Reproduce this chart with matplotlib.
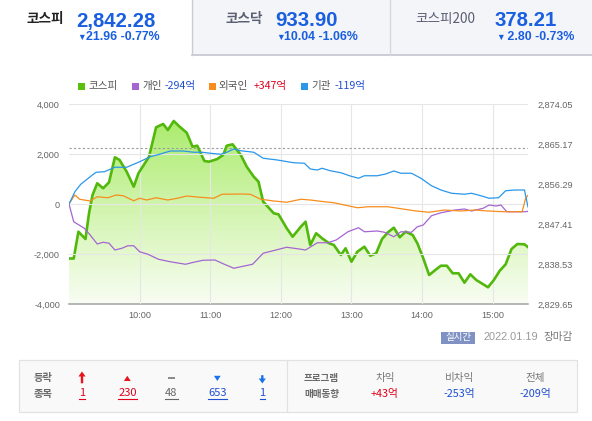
import numpy as np
import matplotlib
matplotlib.use('Agg')
import matplotlib.pyplot as plt
from matplotlib.colors import LinearSegmentedColormap
from matplotlib.patches import Rectangle, Polygon
from matplotlib.ticker import FixedLocator, FuncFormatter

KR = ['Noto Sans CJK KR', 'DejaVu Sans']
NUM = ['Liberation Sans', 'DejaVu Sans']

# ---- data (minutes after 09:00) ----
kospi_min = [0, 4, 8, 14, 17, 20, 24, 29, 34, 39, 43, 49, 55, 59, 68, 74, 80, 84, 89, 94,
             100, 105, 109, 115, 119, 126, 131, 134, 139, 146, 151, 157, 161, 165, 174, 178,
             185, 190, 197, 201, 205, 210, 215, 221, 225, 231, 235, 240, 245, 251, 256, 261,
             266, 271, 276, 281, 286, 292, 296, 301, 306, 312, 316, 321, 326, 331, 336, 341,
             346, 352, 356, 361, 366, 371, 376, 381, 387, 390]
kospi_val = [2839.75, 2839.75, 2845.70, 2844.08, 2849.79, 2853.85, 2856.45, 2855.34, 2856.67,
             2862.22, 2861.62, 2859.02, 2855.69, 2858.67, 2862.35, 2868.88, 2869.61, 2868.28,
             2870.28, 2869.01, 2867.68, 2864.57, 2864.79, 2861.40, 2861.24, 2861.84, 2862.73,
             2864.79, 2865.10, 2862.73, 2860.13, 2857.91, 2856.80, 2852.36, 2849.79, 2849.56,
             2846.46, 2844.59, 2846.81, 2847.92, 2842.75, 2845.35, 2844.24, 2843.13, 2842.75,
             2840.53, 2842.02, 2839.04, 2841.26, 2842.37, 2840.37, 2840.91, 2844.08, 2845.57,
             2846.59, 2844.46, 2845.70, 2844.97, 2843.13, 2839.80, 2836.09, 2837.35, 2838.15,
             2838.15, 2836.47, 2836.47, 2834.38, 2836.24, 2834.98, 2834.02, 2833.36, 2834.98,
             2837.04, 2838.46, 2841.86, 2842.97, 2842.90, 2842.28]

indiv_min = [0, 4, 13, 18, 24, 29, 34, 39, 45, 50, 55, 60, 67, 76, 86, 99, 106, 114, 124, 130,
             140, 156, 165, 175, 185, 191, 197, 201, 211, 220, 227, 237, 246, 251, 262, 268,
             276, 282, 291, 296, 301, 308, 316, 328, 336, 342, 352, 357, 363, 367, 372, 387, 390]
indiv_val = [0, -710, -970, -1240, -1600, -1530, -1570, -1840, -1770, -1670, -1670, -1910,
             -2010, -2210, -2310, -2410, -2330, -2250, -2240, -2370, -2570, -2410, -1970, -1850,
             -1730, -1770, -1810, -1840, -1550, -1550, -1440, -1110, -950, -1110, -1080, -1130,
             -1310, -1110, -1130, -910, -840, -470, -350, -240, -200, -280, -170, -40, -80, -40,
             -310, -310, -294]

fore_min = [0, 5, 9, 18, 24, 33, 40, 46, 55, 60, 66, 74, 84, 92, 100, 111, 123, 130, 146, 154,
            163, 174, 185, 197, 205, 217, 225, 234, 245, 254, 271, 285, 295, 306, 319, 333,
            345, 356, 370, 385, 388, 390]
fore_val = [0, 360, 190, 120, 290, 250, 360, 330, 130, 230, 160, 250, 160, 230, 320, 270, 230,
            390, 400, 390, 190, 120, 70, 190, 160, 90, 50, -40, -150, -110, -110, -210, -280,
            -330, -240, -280, -240, -280, -310, -310, 230, 347]

inst_min = [0, 5, 10, 18, 23, 30, 39, 49, 60, 69, 77, 86, 97, 106, 113, 120, 129, 134, 140, 146,
            157, 165, 177, 191, 200, 205, 211, 215, 222, 231, 239, 246, 251, 262, 269, 276,
            282, 291, 299, 308, 316, 325, 336, 342, 350, 357, 365, 371, 379, 387, 390]
inst_val = [0, 490, 790, 1090, 1270, 1290, 1470, 1470, 1690, 1890, 1990, 2120, 2120, 2070, 2070,
            2030, 1990, 2070, 2200, 2130, 2070, 1830, 1760, 1650, 1630, 1400, 1360, 1430, 1330,
            1250, 1120, 1030, 1130, 1130, 1200, 1320, 1230, 1230, 1030, 730, 560, 430, 390, 430,
            330, 230, 250, 530, 560, 560, -119]

prev_close = 2864.24
kospi_ticks = [2829.65, 2838.53, 2847.41, 2856.29, 2865.17, 2874.05]
flow_ticks = [-4000, -2000, 0, 2000, 4000]
hour_ticks = [60, 120, 180, 240, 300, 360]
hour_labels = ['10:00', '11:00', '12:00', '13:00', '14:00', '15:00']

tabs = [('코스피', '2,842.28', '21.96 -0.77%'),
        ('코스닥', '933.90', '10.04 -1.06%'),
        ('코스피200', '378.21', ' 2.80 -0.73%')]
legend_items = [('코스피', '', '#5cbf0e', None),
                ('개인', '-294억', '#a466d2', '#1f4fd1'),
                ('외국인', '+347억', '#f78d1e', '#e0001b'),
                ('기관', '-119억', '#2a97ea', '#1f4fd1')]
updown_counts = ['1', '230', '48', '653', '1']
program_labels = ['차익', '비차익', '전체']
program_values = ['+43억', '-253억', '-209억']

W, H = 592, 421
BLUE = '#1a5fe0'
RED = '#e0001b'
DBLUE = '#1f4fd1'

fig = plt.figure(figsize=(W / 100, H / 100), dpi=100)
fig.patch.set_facecolor('white')

# overlay in pixel coordinates for the widget decoration
ov = fig.add_axes([0, 0, 1, 1])
ov.set_xlim(0, W)
ov.set_ylim(H, 0)
ov.axis('off')

# ---- header tabs ----
ov.add_patch(Rectangle((192, 0), 400, 54.5, facecolor='#f4f5f9', edgecolor='none'))
ov.plot([192, 592], [54.5, 54.5], color='#c3c6d0', lw=1.2)
ov.plot([192, 192], [0, 54.5], color='#c9ccd6', lw=1)
ov.plot([390, 390], [0, 54.5], color='#d5d8e0', lw=1)

tab_x = [(26.5, 76, 77), (225, 275, 276), (415, 495, 496)]
for i, ((name, val, chg), (xn, xv, xc)) in enumerate(zip(tabs, tab_x)):
    ov.text(xn, 18.5, name, family=KR, fontsize=9.8,
            fontweight='bold' if i < 2 else 'normal',
            color='#222222' if i == 0 else '#5a5f72', ha='left', va='center')
    ov.text(xv, 26.5, val, family=NUM, fontsize=14.7, fontweight='bold',
            color=BLUE, ha='left', va='baseline')
    ov.text(xc, 40.3, '▼', family=NUM, fontsize=6.3, color=BLUE, ha='left', va='baseline')
    ov.text(xc + 8.5, 40.5, chg, family=NUM, fontsize=8.9, fontweight='bold',
            color=BLUE, ha='left', va='baseline')

# ---- legend ----
leg_x = [(78, 88, None), (132, 142, 165), (209, 218, 254), (301, 311, 335)]
for (lab, num, col, ncol), (xs, xl, xn) in zip(legend_items, leg_x):
    ov.add_patch(Rectangle((xs, 82.5), 7, 7, facecolor=col, edgecolor='none'))
    ov.text(xl, 86, lab, family=KR, fontsize=7.6, color='#555555', ha='left', va='center')
    if xn is not None:
        ov.text(xn, 86, num, family=KR, fontsize=7.6, color=ncol, ha='left', va='center')

# ---- chart ----
x0, x1, ytop, ybot = 69, 528, 104, 304
ax = fig.add_axes([x0 / W, 1 - ybot / H, (x1 - x0) / W, (ybot - ytop) / H])
ax2 = ax.twinx()
ylo, yhi = kospi_ticks[0], kospi_ticks[-1]

poly = ax.fill_between(kospi_min, kospi_val, ylo, facecolor='none', edgecolor='none')
cmap = LinearSegmentedColormap.from_list('kospi_fill', ['#f8fdf3', '#d0f4ab', '#a4ea62'])
grad = np.linspace(0, 1, 256).reshape(-1, 1)
im = ax.imshow(grad, extent=[0, 390, ylo, yhi], origin='lower', aspect='auto',
               cmap=cmap, zorder=1)
im.set_clip_path(poly.get_paths()[0], transform=ax.transData)
ax.plot(kospi_min, kospi_val, color='#52b80c', lw=1.9, zorder=3, solid_joinstyle='round')
ax.axhline(prev_close, color='#9a9a9a', lw=0.8, ls=(0, (2, 2)), zorder=2.8)
ax.set_xlim(0, 390)
ax.set_ylim(ylo, yhi)

ax.set_axisbelow(False)
ax.xaxis.set_major_locator(FixedLocator(hour_ticks))
ax.set_xticklabels(hour_labels)
ax.grid(axis='x', color='#e6e6e6', lw=0.8)
ax.yaxis.tick_right()
ax.yaxis.set_major_locator(FixedLocator(kospi_ticks))
ax.yaxis.set_major_formatter(FuncFormatter(lambda v, p: f'{v:,.2f}'))
ax.tick_params(axis='y', left=False, labelleft=False, right=False, labelright=True,
               length=0, pad=6.5, labelsize=6.6, labelcolor='#666666')
ax.tick_params(axis='x', length=0, pad=5, labelsize=6.6, labelcolor='#666666')
for lab in ax.get_xticklabels() + ax.get_yticklabels():
    lab.set_family(NUM)
for s in ['top', 'left', 'right']:
    ax.spines[s].set_visible(False)
ax.spines['bottom'].set_color('#a0a0a0')
ax.spines['bottom'].set_linewidth(1.1)

ax2.set_ylim(-4000, 4000)
ax2.set_axisbelow(True)
ax2.yaxis.tick_left()
ax2.yaxis.set_major_locator(FixedLocator(flow_ticks))
ax2.yaxis.set_major_formatter(FuncFormatter(lambda v, p: f'{int(v):,}'))
ax2.grid(axis='y', color='#e6e6e6', lw=0.8)
ax2.tick_params(axis='y', left=False, labelleft=True, right=False, labelright=False,
                length=0, pad=6.5, labelsize=6.6, labelcolor='#666666')
for lab in ax2.get_yticklabels():
    lab.set_family(NUM)
for s in ax2.spines.values():
    s.set_visible(False)
ax2.plot(indiv_min, indiv_val, color='#a466d2', lw=0.9)
ax2.plot(fore_min, fore_val, color='#f78d1e', lw=0.9)
ax2.plot(inst_min, inst_val, color='#2a97ea', lw=0.9)
ax2.set_xlim(0, 390)

# ---- status line ----
ov.add_patch(Rectangle((441, 331.5), 34, 12, facecolor='#7f92c3', edgecolor='none'))
ov.text(458, 337.5, '실시간', family=KR, fontsize=6.8, color='white', ha='center', va='center')
ov.text(483, 337.3, '2022.01.19', family=NUM, fontsize=7.9, color='#9a9a9a',
        ha='left', va='center')
ov.text(544, 336.8, '장마감', family=KR, fontsize=7.6, color='#777777', ha='left', va='center')

# ---- bottom table ----
ov.add_patch(Rectangle((18.5, 359.5), 558, 52, facecolor='#f9f9f9', edgecolor='#e2e2e2', lw=0.9))
ov.plot([286.5, 286.5], [359.5, 411.5], color='#e2e2e2', lw=0.9)
ov.text(43.5, 377.5, '등락', family=KR, fontsize=7.4, fontweight='bold', color='#6a6a6a',
        ha='center', va='center')
ov.text(43.5, 394.5, '종목', family=KR, fontsize=7.4, fontweight='bold', color='#6a6a6a',
        ha='center', va='center')


def arrow(xc, up, color):
    if up:
        pts = [(xc, 371.5), (xc + 3.6, 376.5), (xc + 1.2, 376.5), (xc + 1.2, 383.3),
               (xc - 1.2, 383.3), (xc - 1.2, 376.5), (xc - 3.6, 376.5)]
    else:
        pts = [(xc, 383.5), (xc + 3.6, 378.5), (xc + 1.2, 378.5), (xc + 1.2, 375.2),
               (xc - 1.2, 375.2), (xc - 1.2, 378.5), (xc - 3.6, 378.5)]
    ov.add_patch(Polygon(pts, closed=True, facecolor=color, edgecolor='none'))


icon_x = [82, 127.3, 171.3, 217.3, 262.3]
num_colors = [RED, RED, '#666666', DBLUE, DBLUE]
num_widths = [5.5, 19, 13, 19, 5.5]
arrow(icon_x[0], True, '#e8141c')
ov.add_patch(Polygon([(icon_x[1], 375.8), (icon_x[1] + 3.4, 381), (icon_x[1] - 3.4, 381)],
                     closed=True, facecolor='#e8141c', edgecolor='none'))
ov.add_patch(Rectangle((icon_x[2] - 3.6, 376.8), 7.2, 2, facecolor='#8c8c8c', edgecolor='none'))
ov.add_patch(Polygon([(icon_x[3], 381), (icon_x[3] + 3.4, 375.8), (icon_x[3] - 3.4, 375.8)],
                     closed=True, facecolor='#1a73e8', edgecolor='none'))
arrow(icon_x[4], False, '#1a73e8')
for xc, s, c, w in zip(icon_x, updown_counts, num_colors, num_widths):
    ov.text(xc, 393.5, s, family=KR, fontsize=8, color=c, ha='center', va='center')
    ov.plot([xc - w / 2, xc + w / 2], [398.8, 398.8], color=c, lw=0.8)

ov.text(321.5, 377.5, '프로그램', family=KR, fontsize=6.9, fontweight='bold', color='#6a6a6a',
        ha='center', va='center')
ov.text(321.5, 394.5, '매매동향', family=KR, fontsize=6.9, fontweight='bold', color='#6a6a6a',
        ha='center', va='center')
prog_x = [385, 459, 535.5]
prog_colors = [RED, DBLUE, DBLUE]
for xc, lab, val, c in zip(prog_x, program_labels, program_values, prog_colors):
    ov.text(xc, 377.5, lab, family=KR, fontsize=7.6, color='#777777', ha='center', va='center')
    ov.text(xc, 393.5, val, family=KR, fontsize=7.8, color=c, ha='center', va='center')

fig.savefig('out.png', dpi=100)
